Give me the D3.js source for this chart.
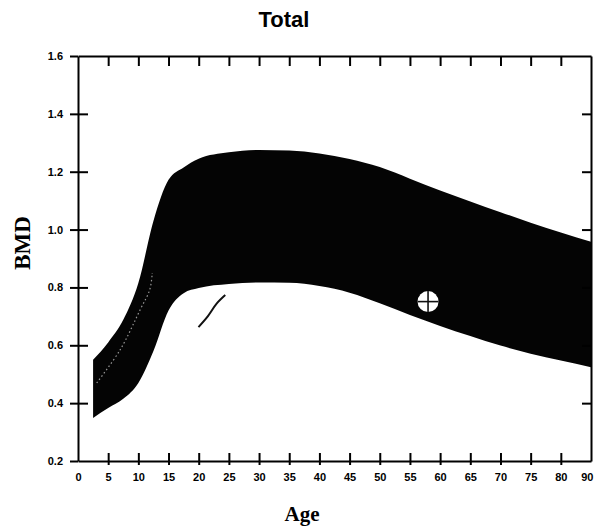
<!DOCTYPE html>
<html>
<head>
<meta charset="utf-8">
<script src="https://cdn.jsdelivr.net/npm/d3@7"></script>
<style>
  html, body { margin: 0; padding: 0; background: #fff; }
  svg { display: block; }
</style>
</head>
<body>
<svg id="chart" width="594" height="526"></svg>
<script>
// ---- data ----
const ages  = [2.5, 5, 7.5, 10, 12.5, 15, 17.5, 20, 25, 30, 35, 40, 45, 50, 55, 60, 65, 70, 75, 80, 85];
const upper = [0.55, 0.61, 0.688, 0.815, 1.03, 1.172, 1.215, 1.245, 1.267, 1.275, 1.273, 1.263, 1.244, 1.216, 1.176, 1.135, 1.097, 1.06, 1.024, 0.99, 0.958];
const lower = [0.349, 0.383, 0.415, 0.47, 0.58, 0.72, 0.78, 0.798, 0.812, 0.817, 0.816, 0.805, 0.782, 0.745, 0.705, 0.667, 0.632, 0.599, 0.571, 0.547, 0.524];
const innerTraceAge = [3.1, 7.0, 10.3, 11.9, 12.3];
const innerTraceBmd = [0.47, 0.585, 0.723, 0.793, 0.85];
const strokeAge = [19.96, 21.5, 23, 24.4];
const strokeBmd = [0.663, 0.70, 0.745, 0.774];
const markerAge = [58.0];
const markerBmd = [0.751];
const xTicks = [0, 5, 10, 15, 20, 25, 30, 35, 40, 45, 50, 55, 60, 65, 70, 75, 80, 85];
const xTickLabels = ["0","5","10","15","20","25","30","35","40","45","50","55","60","65","70","75","80","90"];
const yTicks = [0.2, 0.4, 0.6, 0.8, 1.0, 1.2, 1.4, 1.6];

// ---- layout ----
const svg = d3.select("#chart");
const L = 78, R = 591, T = 56, B = 461;
const x = d3.scaleLinear().domain([0, 85]).range([L, R]);
const y = d3.scaleLinear().domain([0.2, 1.6]).range([B, T]);

// band
const band = ages.map((a, i) => ({a, u: upper[i], l: lower[i]}));
svg.append("path")
  .datum(band)
  .attr("d", d3.area().x(d => x(d.a)).y0(d => y(d.l)).y1(d => y(d.u)).curve(d3.curveMonotoneX))
  .attr("fill", "#040404");

// faint inner trace
svg.append("path")
  .datum(innerTraceAge.map((a, i) => [a, innerTraceBmd[i]]))
  .attr("d", d3.line().x(d => x(d[0])).y(d => y(d[1])).curve(d3.curveCatmullRom))
  .attr("fill", "none").attr("stroke", "#bbb").attr("stroke-width", 1.2)
  .attr("stroke-dasharray", "1.5 2.5").attr("opacity", 0.8);

// small stray stroke
svg.append("path")
  .datum(strokeAge.map((a, i) => [a, strokeBmd[i]]))
  .attr("d", d3.line().x(d => x(d[0])).y(d => y(d[1])).curve(d3.curveCatmullRom))
  .attr("fill", "none").attr("stroke", "#111").attr("stroke-width", 2);

// marker
markerAge.forEach((a, i) => {
  const cx = x(a), cy = y(markerBmd[i]), r = 10.5;
  svg.append("circle").attr("cx", cx).attr("cy", cy).attr("r", r).attr("fill", "#fff");
  svg.append("line").attr("x1", cx - r).attr("x2", cx + r).attr("y1", cy).attr("y2", cy)
    .attr("stroke", "#111").attr("stroke-width", 1.6);
  svg.append("line").attr("x1", cx).attr("x2", cx).attr("y1", cy - r).attr("y2", cy + r)
    .attr("stroke", "#111").attr("stroke-width", 1.6);
});

// ---- axes ----
const tickFont = "bold 11px 'Liberation Sans', Arial, sans-serif";
function styleAxis(g) {
  g.select(".domain").attr("stroke", "#000").attr("stroke-width", 2);
  g.selectAll(".tick line").attr("stroke", "#000").attr("stroke-width", 2);
  g.selectAll(".tick text").style("font", tickFont).attr("fill", "#000");
}

const axBottom = svg.append("g").attr("transform", `translate(0,${B})`)
  .call(d3.axisBottom(x).tickValues(xTicks).tickFormat((d, i) => xTickLabels[i]).tickSizeOuter(0).tickPadding(6));
styleAxis(axBottom);
axBottom.selectAll(".tick line").attr("y1", -8).attr("y2", 4);
axBottom.selectAll(".tick").filter(d => d === 0 || d === 85).select("line").remove();
axBottom.selectAll(".tick").filter(d => d === 85).select("text")
  .attr("text-anchor", "end").attr("x", 2);

const axTop = svg.append("g").attr("transform", `translate(0,${T})`)
  .call(d3.axisTop(x).tickValues(xTicks).tickFormat("").tickSizeOuter(0));
styleAxis(axTop);
axTop.selectAll(".tick line").attr("y1", 0).attr("y2", 10);
axTop.selectAll(".tick").filter(d => d === 0 || d === 85).select("line").remove();

const axLeft = svg.append("g").attr("transform", `translate(${L},0)`)
  .call(d3.axisLeft(y).tickValues(yTicks).tickFormat(d3.format(".1f")).tickSizeOuter(0).tickPadding(9));
styleAxis(axLeft);
axLeft.selectAll(".tick line").attr("x1", -8).attr("x2", 10);
axLeft.selectAll(".tick").filter(d => d === 0.2 || d === 1.6).select("line").attr("x2", 0);

const axRight = svg.append("g").attr("transform", `translate(${R},0)`)
  .call(d3.axisRight(y).tickValues(yTicks).tickFormat("").tickSizeOuter(0));
styleAxis(axRight);
axRight.selectAll(".tick line").attr("x1", 0).attr("x2", -9);
axRight.selectAll(".tick").filter(d => d === 0.2 || d === 1.6).select("line").remove();

// ---- titles ----
svg.append("text").attr("x", 284).attr("y", 27).attr("text-anchor", "middle")
  .style("font", "bold 22px 'Liberation Sans', Arial, sans-serif").text("Total");
svg.append("text").attr("x", 302).attr("y", 521).attr("text-anchor", "middle")
  .style("font", "bold 21px 'Liberation Serif', 'Times New Roman', serif").text("Age");
svg.append("text").attr("transform", "translate(30,243) rotate(-90)").attr("text-anchor", "middle")
  .style("font", "bold 23px 'Liberation Serif', 'Times New Roman', serif").text("BMD");
</script>
</body>
</html>
